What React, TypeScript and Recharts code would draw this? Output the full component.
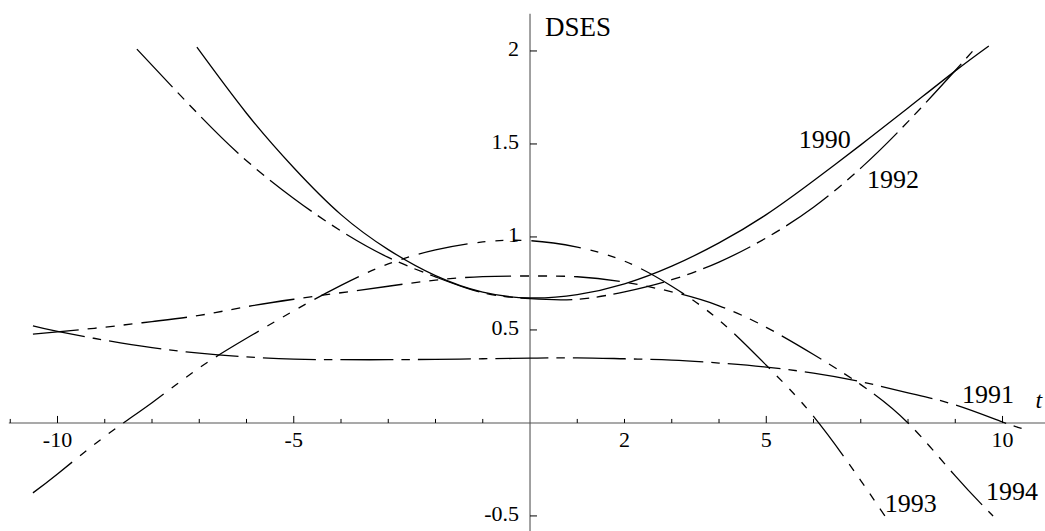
import { LineChart, Line, XAxis, YAxis, ReferenceLine, ReferenceDot } from 'recharts'

// values (t on x, DSES on y)
const t1990 = [-7.05, -6, -5, -4, -3, -2, -1, 0, 1, 2, 3, 4, 5, 6, 7, 8, 9, 9.71]
const v1990 = [2.02, 1.665, 1.372, 1.12, 0.932, 0.792, 0.703, 0.672, 0.69, 0.748, 0.843, 0.968, 1.12, 1.302, 1.495, 1.693, 1.893, 2.027]

const t1991 = [-10.52, -10, -9, -8, -7, -6, -5, -4, -3, -2, -1, 0, 1, 2, 3, 4, 5, 6, 7, 8, 9, 10, 10.52]
const v1991 = [0.522, 0.492, 0.445, 0.405, 0.375, 0.355, 0.343, 0.34, 0.34, 0.342, 0.345, 0.348, 0.35, 0.345, 0.338, 0.322, 0.3, 0.268, 0.222, 0.162, 0.097, 0.005, -0.038]

const t1992 = [-8.32, -7, -6, -5, -4, -3, -2, -1, 0, 1, 2, 3, 4, 5, 6, 7, 8, 9, 9.44]
const v1992 = [2.01, 1.655, 1.41, 1.207, 1.032, 0.89, 0.785, 0.7, 0.668, 0.665, 0.705, 0.77, 0.865, 0.995, 1.16, 1.37, 1.62, 1.895, 2.02]

const t1993 = [-10.52, -10, -9, -8, -7, -6, -5, -4, -3, -2, -1, 0, 1, 2, 3, 4, 5, 6, 7, 7.51]
const v1993 = [-0.376, -0.274, -0.073, 0.109, 0.296, 0.455, 0.603, 0.74, 0.855, 0.93, 0.973, 0.98, 0.945, 0.87, 0.735, 0.553, 0.31, 0.035, -0.31, -0.5]

const t1994 = [-10.52, -10, -9, -8, -7, -6, -5, -4, -3, -2, -1, 0, 1, 2, 3, 4, 5, 6, 7, 8, 9, 9.8]
const v1994 = [0.478, 0.49, 0.515, 0.545, 0.578, 0.625, 0.665, 0.7, 0.735, 0.768, 0.787, 0.79, 0.786, 0.757, 0.705, 0.63, 0.514, 0.368, 0.206, 0.0, -0.285, -0.5]

const xMinorTicks = [-11, -9, -8, -7, -6, -4, -3, -2, -1, 1, 2, 3, 4, 6, 7, 8, 9]
const xMajorTicks = [-10, -5, 5, 10]
const xTickLabels = [-10, -5, 2, 5, 10]
const yTicks = [-0.5, 0.5, 1, 1.5, 2]
const yTickLabels = ['-0.5', '0.5', '1', '1.5', '2']

// label anchor points (left baseline), in data units
const curveLabels = [
  { text: '1990', t: 5.69, v: 1.478 },
  { text: '1992', t: 7.13, v: 1.263 },
  { text: '1991', t: 9.14, v: 0.108 },
  { text: '1993', t: 7.51, v: -0.478 },
  { text: '1994', t: 9.65, v: -0.414 },
]

const zip = (ts: number[], vs: number[]) => ts.map((t, i) => ({ t, v: vs[i] }))

const series = [
  { name: '1990', data: zip(t1990, v1990), dash: undefined },
  { name: '1991', data: zip(t1991, v1991), dash: '53 8 8.5 8' },
  { name: '1992', data: zip(t1992, v1992), dash: '52 7.5 9.5 7.5 9.5 7.5' },
  { name: '1993', data: zip(t1993, v1993), dash: '50 10 8 10 8 10 8 10' },
  { name: '1994', data: zip(t1994, v1994), dash: '46 9 9 9 9 9 9 9' },
]

const W = 1045
const H = 531
const X_DOMAIN = [-11.217, 10.899]
const Y_DOMAIN = [-0.581, 2.274]
const font = '"Liberation Serif", "DejaVu Serif", serif'
const axisColor = '#555'

function textDot(key: string, x: number, y: number, label: string, size: number, anchor: string, italic = false) {
  return (
    <ReferenceDot
      key={key}
      x={x}
      y={y}
      r={0}
      ifOverflow="visible"
      shape={(p: any) => (
        <text
          x={p.cx}
          y={p.cy}
          fontFamily={font}
          fontSize={size}
          fontStyle={italic ? 'italic' : 'normal'}
          textAnchor={anchor}
          fill="#000"
        >
          {label}
        </text>
      )}
    />
  )
}

export default function App() {
  return (
    <div style={{ position: 'absolute', left: 0, top: 0, width: W, height: H, background: '#fff' }}>
      <LineChart width={W} height={H} margin={{ top: 0, right: 0, bottom: 0, left: 0 }}>
        <XAxis type="number" dataKey="t" domain={X_DOMAIN} allowDataOverflow hide />
        <YAxis type="number" dataKey="v" domain={Y_DOMAIN} allowDataOverflow hide />

        {/* axes crossing at the origin */}
        <ReferenceLine
          segment={[{ x: -11.03, y: 0 }, { x: X_DOMAIN[1], y: 0 }]}
          stroke={axisColor}
          strokeWidth={1.1}
          ifOverflow="visible"
        />
        <ReferenceLine
          segment={[{ x: 0, y: Y_DOMAIN[0] }, { x: 0, y: 2.2 }]}
          stroke={axisColor}
          strokeWidth={1.1}
          ifOverflow="visible"
        />
        {xMinorTicks.map((t) => (
          <ReferenceLine
            key={`xm${t}`}
            segment={[{ x: t, y: 0 }, { x: t, y: 0.0215 }]}
            stroke="#000"
            strokeWidth={1}
            ifOverflow="visible"
          />
        ))}
        {xMajorTicks.map((t) => (
          <ReferenceLine
            key={`xM${t}`}
            segment={[{ x: t, y: 0 }, { x: t, y: 0.0376 }]}
            stroke="#000"
            strokeWidth={1}
            ifOverflow="visible"
          />
        ))}
        {yTicks.map((v) => (
          <ReferenceLine
            key={`y${v}`}
            segment={[{ x: 0, y: v }, { x: 0.148, y: v }]}
            stroke="#000"
            strokeWidth={1}
            ifOverflow="visible"
          />
        ))}

        {series.map((s) => (
          <Line
            key={s.name}
            data={s.data}
            dataKey="v"
            type="natural"
            stroke="#000"
            strokeWidth={1.3}
            strokeDasharray={s.dash}
            dot={false}
            activeDot={false}
            isAnimationActive={false}
          />
        ))}

        {xTickLabels.map((t) => textDot(`xl${t}`, t, -0.129, String(t), 22, 'middle'))}
        {yTicks.map((v, i) => textDot(`yl${v}`, -0.233, v - 0.027, yTickLabels[i], 22, 'end'))}
        {curveLabels.map((c) => textDot(`cl${c.text}`, c.t, c.v, c.text, 26, 'start'))}
        {textDot('dses', 0.317, 2.08, 'DSES', 27, 'start')}
        {textDot('tlab', 10.7, 0.08, 't', 24, 'start', true)}
      </LineChart>
    </div>
  )
}
